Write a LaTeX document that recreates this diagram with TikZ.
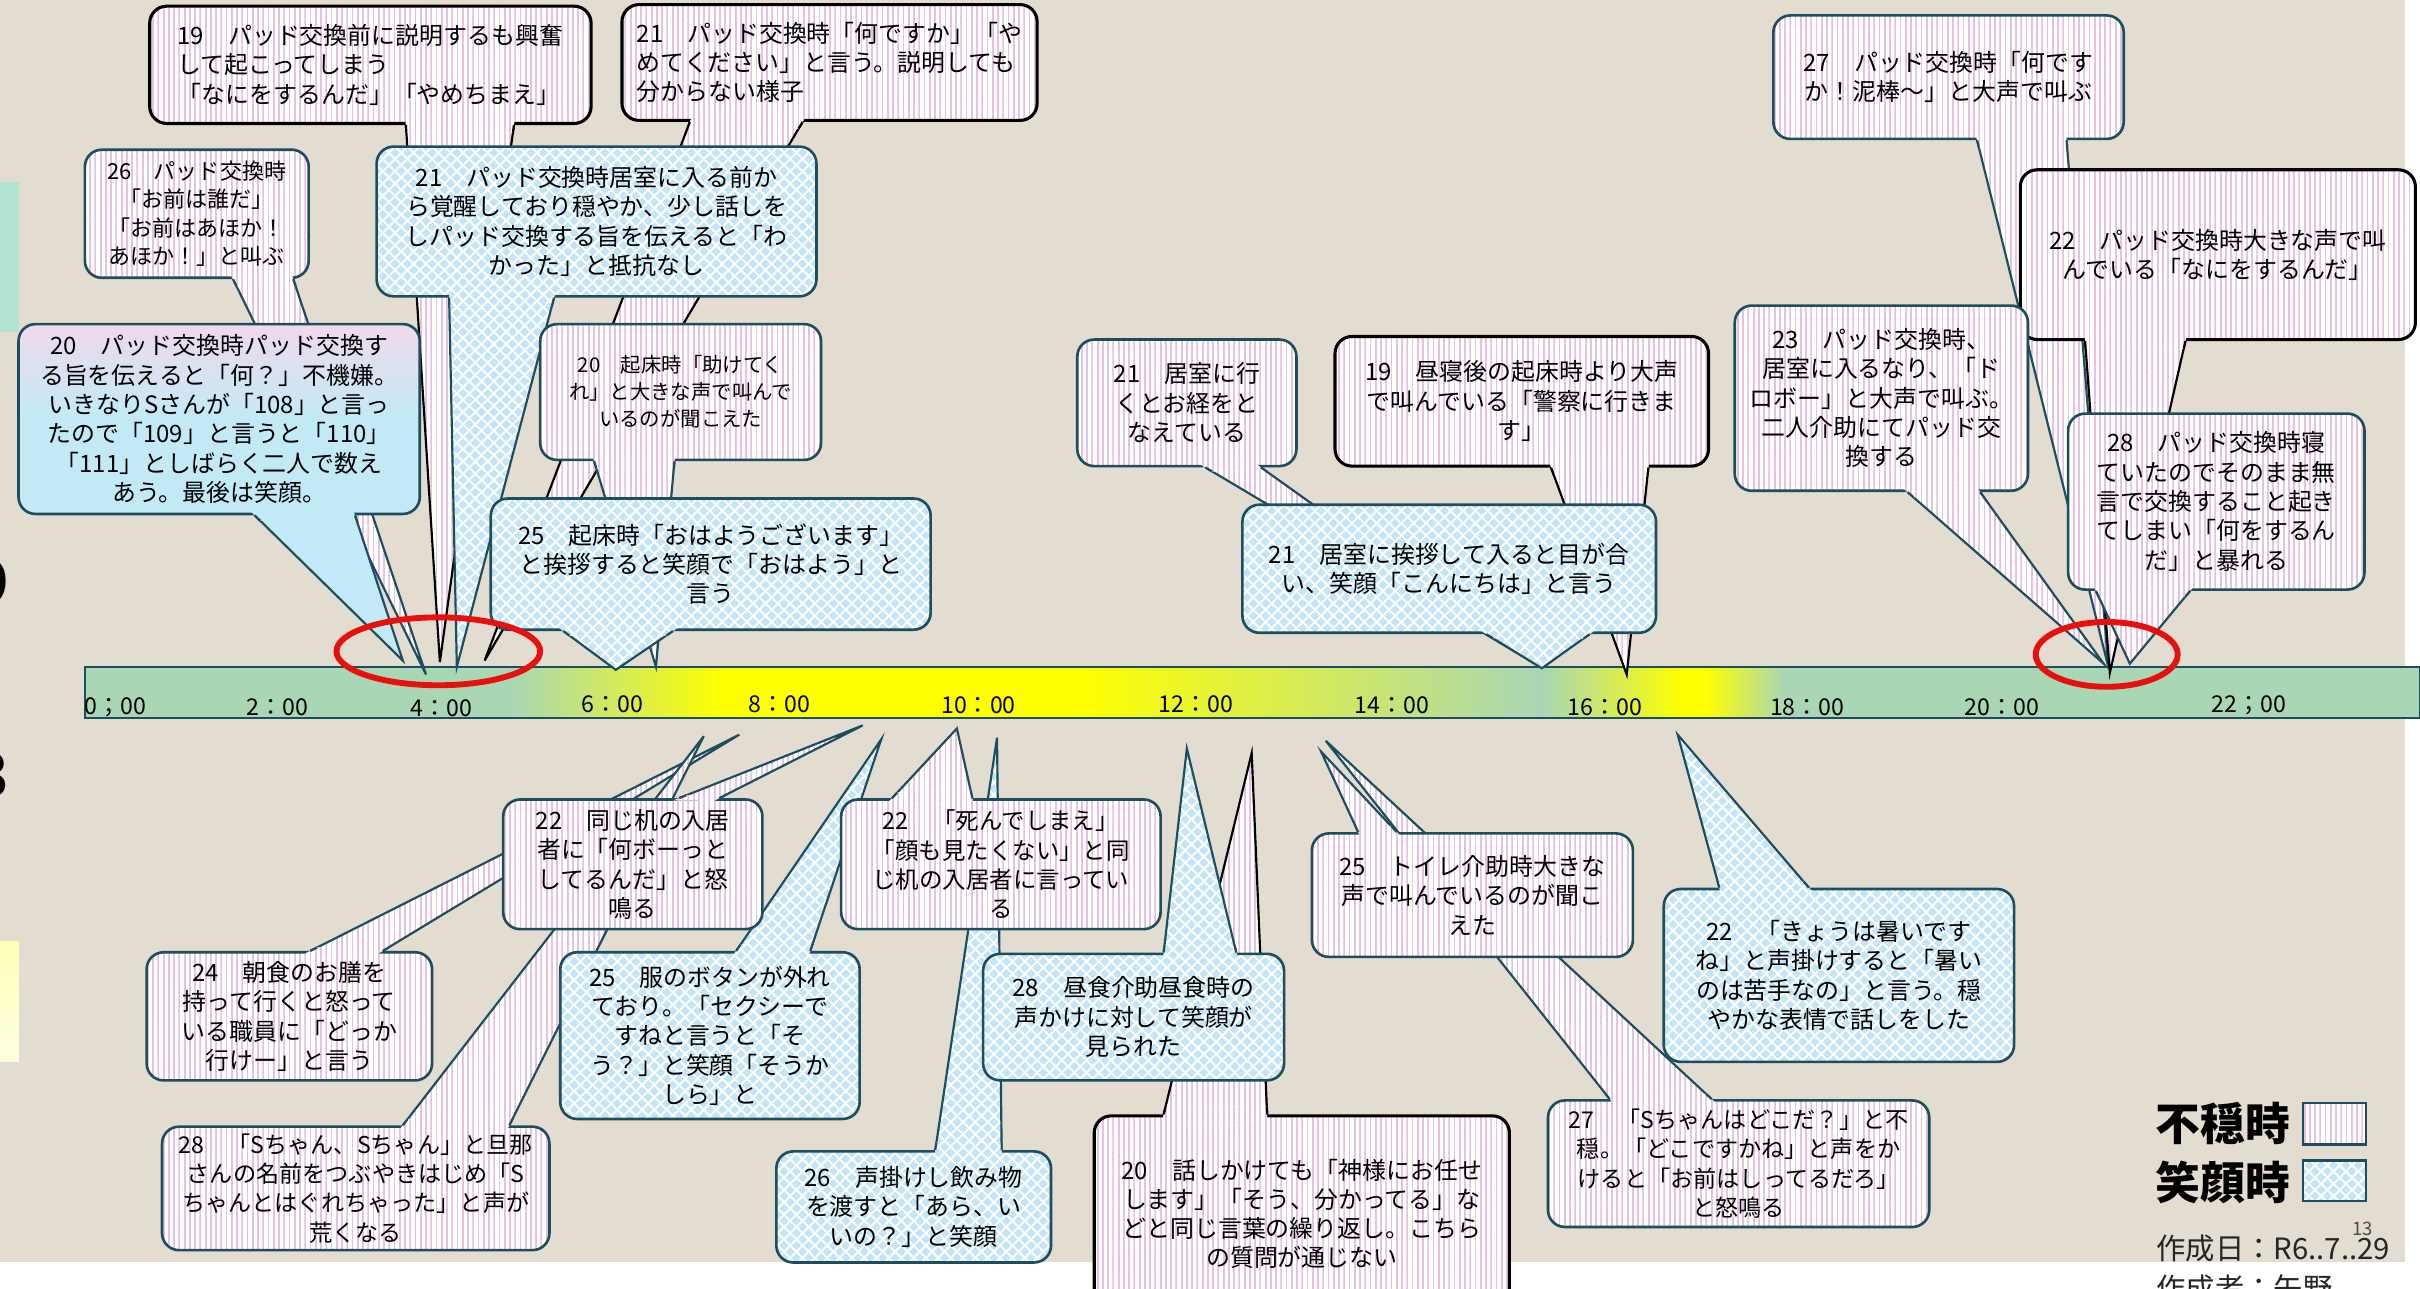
\documentclass[tikz,border=0pt]{standalone}
\usepackage{fontspec}
\setmainfont{Noto Sans CJK JP}
\usetikzlibrary{calc,patterns}
\pgfdeclarelayer{back}\pgfdeclarelayer{bg}\pgfdeclarelayer{fg}\pgfdeclarelayer{top}
\pgfsetlayers{back,bg,main,fg,top}
\definecolor{beige}{HTML}{E2DCD1}
\definecolor{tealc}{HTML}{1D4E5E}
\definecolor{stripepink}{HTML}{E6C2E0}
\definecolor{diamblue}{HTML}{C4E5F6}
\definecolor{gpink}{HTML}{F0D9EC}
\definecolor{gblue}{HTML}{C2EAF6}
\definecolor{lteal}{HTML}{B2E2D2}
\definecolor{lyel1}{HTML}{FFFFB8}
\definecolor{lyel2}{HTML}{FFFFE0}
\definecolor{redc}{HTML}{E8100C}
\pgfdeclarehorizontalshading{tlshade}{100bp}{rgb(0bp)=(0.663,0.839,0.710); rgb(34.1bp)=(0.663,0.839,0.710); rgb(38.7bp)=(1,1,0); rgb(46.3bp)=(1,1,0); rgb(56.2bp)=(0.663,0.839,0.710); rgb(59.2bp)=(1,1,0); rgb(59.7bp)=(1,1,0); rgb(61.4bp)=(0.663,0.839,0.710); rgb(100bp)=(0.663,0.839,0.710)}
\pgfdeclarepatternformonly{pstripe}{\pgfpoint{0pt}{-0.5pt}}{\pgfpoint{3.4pt}{4.5pt}}{\pgfpoint{3.4pt}{4pt}}{\pgfpathrectangle{\pgfpoint{0pt}{-0.5pt}}{\pgfpoint{1.2pt}{5pt}}\pgfusepath{fill}}
\pgfdeclarepatternformonly{bdiam}{\pgfpoint{-4pt}{-4pt}}{\pgfpoint{8pt}{8pt}}{\pgfpoint{8pt}{8pt}}{%
\pgfpathmoveto{\pgfpoint{0pt}{-3pt}}\pgfpathlineto{\pgfpoint{3pt}{0pt}}\pgfpathlineto{\pgfpoint{0pt}{3pt}}\pgfpathlineto{\pgfpoint{-3pt}{0pt}}\pgfpathclose
\pgfpathmoveto{\pgfpoint{4pt}{1pt}}\pgfpathlineto{\pgfpoint{7pt}{4pt}}\pgfpathlineto{\pgfpoint{4pt}{7pt}}\pgfpathlineto{\pgfpoint{1pt}{4pt}}\pgfpathclose
\pgfusepath{fill}}
\newcommand\fsz[2]{\fontsize{#1}{#2}\selectfont}
\tikzset{
 bubble/.style={rounded corners=11pt, line width=1.7pt, align=center, inner sep=2pt, font=\fsz{15.5}{19}, text=black},
 pinkfill/.style={preaction={fill=white}, pattern=pstripe, pattern color=stripepink},
 bluefill/.style={preaction={fill=white}, pattern=bdiam, pattern color=diamblue},
 gtailfill/.style={fill=gblue},
 pinkbub/.style={bubble, pinkfill, draw=tealc},
 bluebub/.style={bubble, bluefill, draw=tealc},
 blackpink/.style={bubble, pinkfill, draw=black, line width=2pt},
 tailln/.style={line width=1.4pt, line join=miter},
 hr/.style={font=\fsz{15}{15}, inner sep=0pt, text=black}
}
\newcommand\mkbox[7]{\node[#2,minimum width={(#5-#3)*1pt},minimum height={(#6-#4)*1pt}] (#1) at ({(#3+#5)/2},{(#4+#6)/2}) {#7};}
\newcommand\mktail[7]{%
 \coordinate (tA) at (#5,0 |- #3.#4);%
 \coordinate (tB) at (#6,0 |- #3.#4);%
 \begin{pgfonlayer}{bg}%
  \path[#1] (tA) -- (#7) -- (tB) -- cycle;%
  \draw[tailln,#2] (tA) -- (#7) -- (tB);%
 \end{pgfonlayer}%
 \begin{pgfonlayer}{fg}%
  \path[#1] ($(tA)!-4pt!(#7)$) -- ($(tA)!5pt!(#7)$) -- ($(tB)!5pt!(#7)$) -- ($(tB)!-4pt!(#7)$) -- cycle;%
  \draw[tailln,#2] (tA) -- ($(tA)!5pt!(#7)$) (tB) -- ($(tB)!5pt!(#7)$);%
 \end{pgfonlayer}}
\begin{document}
\begin{tikzpicture}[x=1pt,y=-1pt]
\useasboundingbox (0,0) rectangle (1568,835);
\begin{pgfonlayer}{back}
\fill[white] (0,0) rectangle (1568,835);
\fill[beige] (0,0) rectangle (1558,818);
\fill[lteal] (0,118) rectangle (12,215);
\shade[top color=lyel1, bottom color=lyel2] (0,610) rectangle (12,688);
\node[anchor=east,font=\fsz{40}{40}\bfseries,inner sep=0pt] (g1) at (6,377) {9};
\node[anchor=east,font=\fsz{40}{40}\bfseries,inner sep=0pt] (g2) at (6,502) {3};
\shade[shading=tlshade] (55,432) rectangle (1568,465);
\draw[tealc,line width=1.5pt] (55,432) rectangle (1568,465);
\node[hr] (t0) at (75,458) {0；00};
\node[hr] (t2) at (180,458) {2：00};
\node[hr] (t4) at (286,459) {4：00};
\node[hr] (t6) at (397,456) {6：00};
\node[hr] (t8) at (505,456) {8：00};
\node[hr] (t10) at (634,457) {10：00};
\node[hr] (t12) at (775,456) {12：00};
\node[hr] (t14) at (902,457) {14：00};
\node[hr] (t16) at (1040,458) {16：00};
\node[hr] (t18) at (1171,458) {18：00};
\node[hr] (t20) at (1297,458) {20：00};
\node[hr] (t22) at (1457,457) {22；00};
\end{pgfonlayer}

% ---------- boxes (top side)
\mkbox{n19a}{blackpink,align=left}{97}{4}{383}{80}{19　パッド交換前に説明するも興奮\\して起こってしまう\\「なにをするんだ」「やめちまえ」}
\mkbox{n21a}{blackpink,align=left}{403}{3}{672}{78}{21　パッド交換時「何ですか」「や\\めてください」と言う。説明しても\\分からない様子}
\mkbox{n26a}{pinkbub,font=\fsz{14.3}{18.3}}{55}{97}{200}{180}{26　パッド交換時\\「お前は誰だ」\\「お前はあほか！\\あほか！」と叫ぶ}
\mkbox{n21b}{bluebub}{244}{95}{529}{192}{21　パッド交換時居室に入る前か\\ら覚醒しており穏やか、少し話しを\\しパッド交換する旨を伝えると「わ\\かった」と抵抗なし}
\mkbox{n20a}{bubble,draw=tealc,top color=gpink,bottom color=gblue,middle color=gblue}{12}{210}{272}{333}{20　パッド交換時パッド交換す\\る旨を伝えると「何？」不機嫌。\\いきなりSさんが「108」と言っ\\たので「109」と言うと「110」\\「111」としばらく二人で数え\\あう。最後は笑顔。}
\mkbox{n20b}{pinkbub,font=\fsz{13.2}{17.5}}{350}{210}{532}{298}{20　起床時「助けてく\\れ」と大きな声で叫んで\\いるのが聞こえた}
\mkbox{n25a}{bluebub}{318}{323}{603}{408}{25　起床時「おはようございます」\\と挨拶すると笑顔で「おはよう」と\\言う}
\mkbox{n21c}{pinkbub}{698}{220}{840}{302}{21　居室に行\\くとお経をと\\なえている}
\mkbox{n19b}{blackpink}{865}{218}{1107}{302}{19　昼寝後の起床時より大声\\で叫んでいる「警察に行きま\\す」}
\mkbox{n21d}{bluebub}{805}{327}{1073}{410}{21　居室に挨拶して入ると目が合\\い、笑顔「こんにちは」と言う}
\mkbox{n27a}{pinkbub}{1149}{10}{1376}{90}{27　パッド交換時「何です\\か！泥棒～」と大声で叫ぶ}
\mkbox{n22a}{blackpink}{1309}{110}{1565}{220}{22　パッド交換時大きな声で叫\\んでいる「なにをするんだ」}
\mkbox{n23a}{pinkbub}{1124}{198}{1314}{318}{23　パッド交換時、\\居室に入るなり、「ド\\ロボー」と大声で叫ぶ。\\二人介助にてパッド交\\換する}
\mkbox{n28a}{pinkbub}{1340}{268}{1532}{382}{28　パッド交換時寝\\ていたのでそのまま無\\言で交換すること起き\\てしまい「何をするん\\だ」と暴れる}
% ---------- boxes (bottom side)
\mkbox{n22b}{pinkbub}{326}{518}{494}{602}{22　同じ机の入居\\者に「何ボーっと\\してるんだ」と怒\\鳴る}
\mkbox{n24}{pinkbub}{95}{617}{280}{700}{24　朝食のお膳を\\持って行くと怒って\\いる職員に「どっか\\行けー」と言う}
\mkbox{n28b}{pinkbub,font=\fsz{15}{19}}{105}{730}{356}{810}{28　「Sちゃん、Sちゃん」と旦那\\さんの名前をつぶやきはじめ「S\\ちゃんとはぐれちゃった」と声が\\荒くなる}
\mkbox{n25b}{bluebub}{363}{617}{557}{725}{25　服のボタンが外れ\\ており。「セクシーで\\すねと言うと「そ\\う？」と笑顔「そうか\\しら」と}
\mkbox{n22c}{pinkbub,font=\fsz{15.2}{19}}{545}{518}{752}{602}{22　「死んでしまえ」\\「顔も見たくない」と同\\じ机の入居者に言ってい\\る}
\mkbox{n26b}{bluebub}{503}{746}{681}{818}{26　声掛けし飲み物\\を渡すと「あら、い\\いの？」と笑顔}
\mkbox{n28c}{bluebub}{637}{618}{832}{700}{28　昼食介助昼食時の\\声かけに対して笑顔が\\見られた}
\mkbox{n20c}{blackpink}{709}{723}{978}{850}{20　話しかけても「神様にお任せ\\します」「そう、分かってる」な\\どと同じ言葉の繰り返し。こちら\\の質問が通じない}
\mkbox{n25c}{pinkbub}{850}{540}{1058}{620}{25　トイレ介助時大きな\\声で叫んでいるのが聞こ\\えた}
\mkbox{n27b}{pinkbub,font=\fsz{15}{19}}{1003}{713}{1250}{795}{27　「Sちゃんはどこだ？」と不\\穏。「どこですかね」と声をか\\けると「お前はしってるだろ」\\と怒鳴る}
\mkbox{n22d}{bluebub}{1078}{576}{1305}{688}{22　「きょうは暑いです\\ね」と声掛けすると「暑い\\のは苦手なの」と言う。穏\\やかな表情で話しをした}

% ---------- tail tips
\coordinate (p26a) at (276,437);
\coordinate (p19a) at (285,429);
\coordinate (p20a) at (261,428);
\coordinate (p21a) at (314,428);
\coordinate (p21b) at (296,432);
\coordinate (p20b) at (425,432);
\coordinate (p25a) at (399,434);
\coordinate (p21c) at (998,432);
\coordinate (p19b) at (1054,437);
\coordinate (p21d) at (999,433);
\coordinate (p27a) at (1366,432);
\coordinate (p22a) at (1367,436);
\coordinate (p23a) at (1363,430);
\coordinate (p28a) at (1380,430);
\coordinate (p24) at (479,476);
\coordinate (p28b) at (456,477);
\coordinate (p22b) at (559,470);
\coordinate (p25b) at (571,479);
\coordinate (p26b) at (646,478);
\coordinate (p22c) at (620,472);
\coordinate (p20c) at (811,488);
\coordinate (p28c) at (769,485);
\coordinate (p27b) at (859,480);
\coordinate (p25c) at (856,487);
\coordinate (p22d) at (1087,476);

% ---------- tails
\mktail{pinkfill}{tealc}{n26a}{south}{151}{190}{p26a}
\mktail{pinkfill}{black}{n19a}{south}{263}{333}{p19a}
\mktail{gtailfill}{tealc}{n20a}{south}{165}{230}{p20a}
\mktail{pinkfill}{black}{n21a}{south}{447}{520}{p21a}
\mktail{bluefill}{tealc}{n21b}{south}{291}{359}{p21b}
\mktail{pinkfill}{tealc}{n20b}{south}{385}{437}{p20b}
\mktail{bluefill}{tealc}{n25a}{south}{365}{436}{p25a}
\mktail{pinkfill}{tealc}{n21c}{south}{781}{817}{p21c}
\mktail{pinkfill}{black}{n19b}{south}{1005}{1068}{p19b}
\mktail{bluefill}{tealc}{n21d}{south}{963}{1030}{p21d}
\mktail{pinkfill}{tealc}{n27a}{south}{1281}{1339}{p27a}
\mktail{pinkfill}{black}{n22a}{south}{1351}{1416}{p22a}
\mktail{pinkfill}{tealc}{n23a}{south}{1236}{1283}{p23a}
\mktail{pinkfill}{tealc}{n28a}{south}{1358}{1419}{p28a}
\mktail{pinkfill}{tealc}{n24}{north}{201}{248}{p24}
\mktail{pinkfill}{tealc}{n28b}{north}{261}{330}{p28b}
\mktail{pinkfill}{tealc}{n22b}{north}{440}{466}{p22b}
\mktail{bluefill}{tealc}{n25b}{north}{477}{525}{p25b}
\mktail{bluefill}{tealc}{n26b}{north}{606}{649}{p26b}
\mktail{pinkfill}{tealc}{n22c}{north}{578}{630}{p22c}
\mktail{pinkfill}{black}{n20c}{north}{754}{821}{p20c}
\mktail{bluefill}{tealc}{n28c}{north}{754}{801}{p28c}
\mktail{pinkfill}{tealc}{n27b}{north}{1043}{1109}{p27b}
\mktail{pinkfill}{tealc}{n25c}{north}{880}{905}{p25c}
\mktail{bluefill}{tealc}{n22d}{north}{1114}{1172}{p22d}

% ---------- legend and footer
\node[font=\fsz{29}{29}\bfseries, anchor=east, inner sep=0pt] (lg1) at (1484,728) {不穏時};
\node[font=\fsz{29}{29}\bfseries, anchor=east, inner sep=0pt] (lg2) at (1484,766) {笑顔時};
\node[draw=tealc, line width=1.5pt, pinkfill, minimum width=41pt, minimum height=27pt, inner sep=0pt] (lb1) at (1512.5,728) {};
\node[draw=tealc, line width=1.5pt, bluefill, minimum width=41pt, minimum height=26pt, inner sep=0pt] (lb2) at (1512.5,765) {};
\node[font=\fsz{12}{12}, text=black!70, inner sep=0pt] (pg) at (1531,796) {13};
\node[font=\fsz{19}{19}, anchor=west, inner sep=0pt, text=black!85] (d1) at (1397,809) {作成日：R6..7..29};
\node[font=\fsz{19}{19}, anchor=west, inner sep=0pt, text=black!85] (d2) at (1397,835) {作成者：矢野};

\begin{pgfonlayer}{top}
\draw[redc, line width=3.8pt] (284,422) ellipse [x radius=66pt, y radius=22pt];
\draw[redc, line width=3.8pt] (1365,424) ellipse [x radius=46pt, y radius=21pt];
\end{pgfonlayer}
\end{tikzpicture}
\end{document}
